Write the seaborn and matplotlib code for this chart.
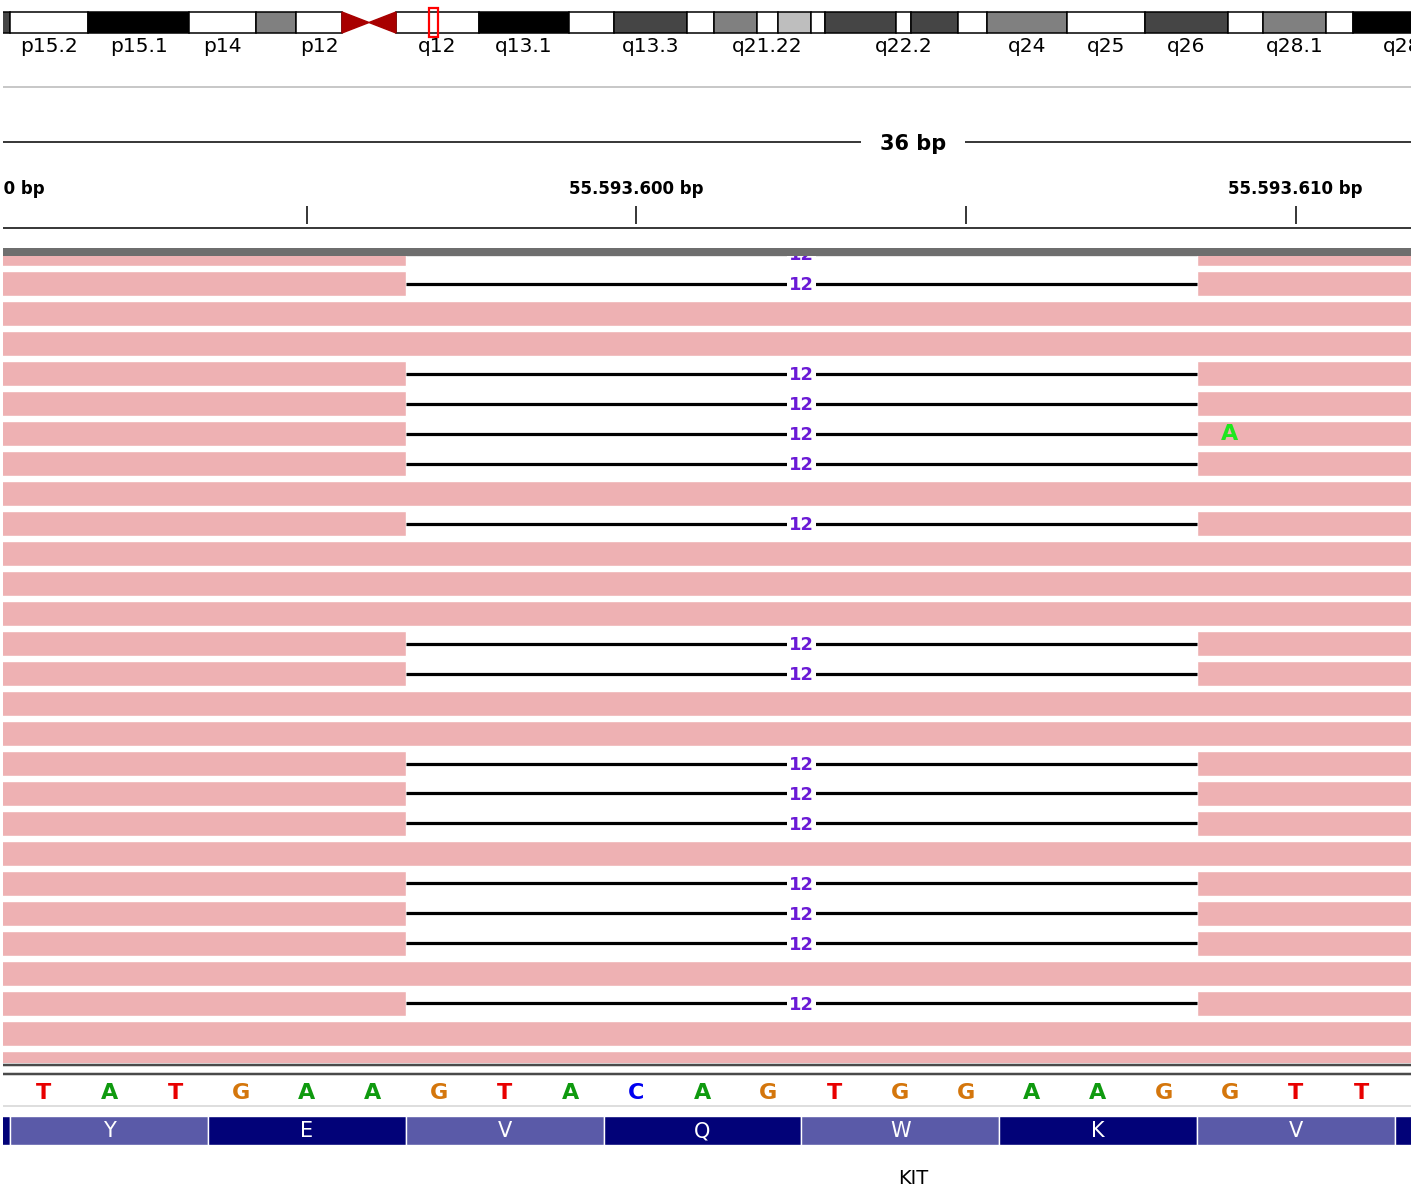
import matplotlib.pyplot as plt
from matplotlib.lines import Line2D
from matplotlib.patches import Polygon, Rectangle
import numpy as np
import pandas as pd
import seaborn as sns

W, H = 1417, 1193

# --- ideogram of chr4 (display units of the cropped overview)
band_names = ['p15.31', 'p15.2', 'p15.1', 'p14', 'p13', 'p12', 'p11', 'q11',
              'q12', 'q13.1', 'q13.2', 'q13.3', 'q21.1', 'q21.21', 'q21.22',
              'q21.23', 'q21.3', 'q22.1', 'q22.2', 'q22.3', 'q23', 'q24',
              'q25', 'q26', 'q27', 'q28.1', 'q28.2', 'q28.3']
band_start = [-60, 10, 88, 189, 256, 296, 342, 369, 396, 479, 569, 614, 687,
              714, 757, 778, 811, 825, 896, 911, 958, 987, 1067, 1145, 1228,
              1263, 1326, 1353]
band_end = band_start[1:] + [1470]
band_stain = ['gpos75', 'gneg', 'gpos100', 'gneg', 'gpos50', 'gneg', 'acen',
              'acen', 'gneg', 'gpos100', 'gneg', 'gpos75', 'gneg', 'gpos50',
              'gneg', 'gpos25', 'gneg', 'gpos75', 'gneg', 'gpos75', 'gneg',
              'gpos50', 'gneg', 'gpos75', 'gneg', 'gpos50', 'gneg', 'gpos100']
shown_labels = ['p15.2', 'p15.1', 'p14', 'p12', 'q12', 'q13.1', 'q13.3',
                'q21.22', 'q22.2', 'q24', 'q25', 'q26', 'q28.1', 'q28.3']
current_region = (429, 438)

# --- alignment view (positions relative to 55.593.000)
offset = 55593000
view_bp = 36
view_center = 604.2
tick_positions = [590, 595, 600, 605, 610]
ref_bases = list('TATGAAGTACAGTGGAAGGTT')
first_base = 591
aa_letters = ['M', 'Y', 'E', 'V', 'Q', 'W', 'K', 'V', 'V']
first_codon = 587.5
n_rows = 28
deletion_rows = [0, 1, 4, 5, 6, 7, 9, 13, 14, 17, 18, 19, 21, 22, 23, 25]
del_start, del_end = 596.5, 608.5
mismatch_row, mismatch_pos, mismatch_base = 6, 609, 'A'
read_start, read_end = 560, 640

stain_color = {'gneg': 'white', 'gpos25': '#bebebe', 'gpos50': '#808080',
               'gpos75': '#454545', 'gpos100': 'black', 'acen': '#a80000'}
base_color = {'A': '#0f9a0f', 'C': '#0000f0', 'G': '#d4760c', 'T': '#e80000'}

sns.set_theme(style='white')
plt.rcParams['font.family'] = ['DejaVu Sans']
plt.rcParams['text.color'] = 'black'

fig = plt.figure(figsize=(W / 100, H / 100), dpi=100)
xlim_bp = (590.39, 611.75)


def add_ax(top, bottom, left=3, right=1411):
    ax = fig.add_axes([left / W, 1 - bottom / H, (right - left) / W, (bottom - top) / H])
    ax.set_axis_off()
    return ax


def hline_px(y, color, lw_px):
    fig.add_artist(Line2D([3 / W, 1411 / W], [1 - y / H, 1 - y / H],
                          color=color, lw=lw_px * 0.72, solid_capstyle='butt'))


### ideogram
bands = pd.DataFrame({'name': band_names, 'start': band_start,
                      'end': band_end, 'stain': band_stain})
ax_id = add_ax(0, 60)
ax_id.set_xlim(3, 1411)
ax_id.set_ylim(60, 0)
arm = bands[bands.stain != 'acen']
ax_id.bar(x=arm.start, width=arm.end - arm.start, bottom=12, height=21, align='edge',
          color=[stain_color[s] for s in arm.stain], edgecolor='black', lw=1.1)
for _, b in bands[bands.stain == 'acen'].iterrows():
    if b['name'].startswith('p'):
        pts = [(b.start, 12), (b.start, 33), (b.end, 22.5)]
    else:
        pts = [(b.end, 12), (b.end, 33), (b.start, 22.5)]
    ax_id.add_patch(Polygon(pts, closed=True, color=stain_color['acen']))
for _, b in bands[bands.name.isin(shown_labels)].iterrows():
    ax_id.text((b.start + b.end) / 2, 46, b['name'], ha='center', va='center',
               fontsize=14.5, color='black', clip_on=True)
ax_id.add_patch(Rectangle((current_region[0], 8), current_region[1] - current_region[0],
                          29, fill=False, edgecolor='red', lw=1.6))

hline_px(87, '#c8c8c8', 2)

### ruler
ax_r = add_ax(100, 232)
ax_r.set_xlim(*xlim_bp)
ax_r.set_ylim(232, 100)
ax_r.axhline(142, color='black', lw=1.1)
ax_r.text(view_center, 144, f'{view_bp} bp', ha='center', va='center',
          fontsize=15, fontweight='bold',
          bbox=dict(boxstyle='square,pad=0.9', fc='white', ec='none'))
ax_r.vlines(tick_positions, 206, 224, color='black', lw=1.1)
for t in tick_positions:
    if t % 10 == 0:
        lab = f'{offset + t:,} bp'.replace(',', '.')
        ax_r.text(t, 189, lab, ha='center', va='center', fontsize=12,
                  fontweight='bold', clip_on=True)
ax_r.axhline(228, color='black', lw=1.1)

### reads
ax = add_ax(256, 1063)
ax.set_xlim(*xlim_bp)
ax.set_ylim((1063 - 253.5) / 30, (256 - 253.5) / 30)
pink = '#eeb1b3'
for k in range(n_rows):
    if k in deletion_rows:
        ax.barh(k, del_start - read_start, left=read_start, height=25 / 30, color=pink)
        ax.barh(k, read_end - del_end, left=del_end, height=25 / 30, color=pink)
        ax.hlines(k, del_start, del_end, color='black', lw=2.3)
        ax.text((del_start + del_end) / 2, k + 0.06, str(int(del_end - del_start)),
                ha='center', va='center', fontsize=13, fontweight='bold',
                color='#6a1ad6', clip_on=True,
                bbox=dict(boxstyle='square,pad=0.12', fc='white', ec='none'))
    else:
        ax.barh(k, read_end - read_start, left=read_start, height=25 / 30, color=pink)
ax.text(mismatch_pos, mismatch_row + 0.03, mismatch_base, ha='center', va='center',
        fontsize=16, fontweight='bold', color='#1ee61e')

hline_px(252, '#6e6e6e', 8)
hline_px(1065, '#4a4a4a', 2.5)
hline_px(1074, '#4a4a4a', 2.5)

### reference sequence
ax_s = add_ax(1076, 1106)
ax_s.set_xlim(*xlim_bp)
ax_s.set_ylim(0, 1)
for i, b in enumerate(ref_bases):
    ax_s.text(first_base + i, 0.42, b, ha='center', va='center', fontsize=16,
              fontweight='bold', color=base_color[b])
hline_px(1106, '#d4d4d4', 1.5)

### amino acids
ax_a = add_ax(1116, 1145)
ax_a.set_xlim(*xlim_bp)
ax_a.set_ylim(0, 1)
codon_x = first_codon + 3 * np.arange(len(aa_letters))
ax_a.bar(x=codon_x, width=3, bottom=0, height=1, align='edge',
         color=['#5a5aa8' if i % 2 else '#020278' for i in range(len(aa_letters))])
for x, a in zip(codon_x, aa_letters):
    ax_a.text(x + 1.5, 0.47, a, ha='center', va='center', fontsize=15,
              color='white', clip_on=True)
ax_a.text(view_center, (1145 - 1178) / 29, 'KIT', ha='center', va='center',
          fontsize=14, color='black', clip_on=False)

plt.savefig('out.png', dpi=100)
plt.close()
